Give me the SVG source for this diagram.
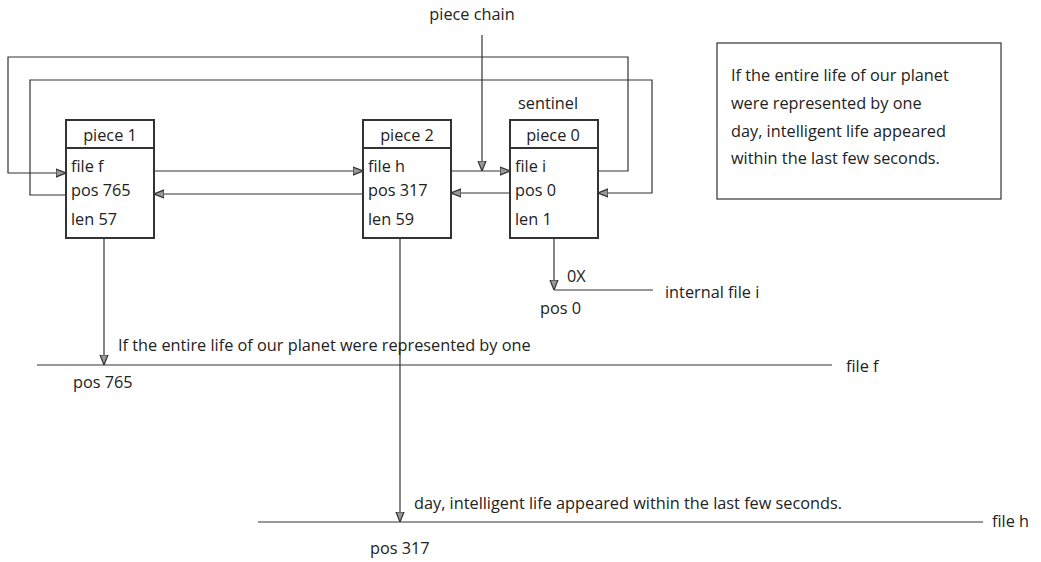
<svg xmlns="http://www.w3.org/2000/svg" width="1041" height="562" viewBox="0 0 1041 562">
<style>
text{font-family:"Open Sans","Noto Sans","Liberation Sans",sans-serif;font-size:16.3px;fill:#222}
.box{fill:#fff;stroke:#333;stroke-width:2}
.sep{stroke:#333;stroke-width:2}
.c{fill:none;stroke:#333;stroke-width:1.2}
.mid{text-anchor:middle}
</style>
<defs>
<marker id="ah" viewBox="0 0 10 10" refX="10" refY="5" markerWidth="10" markerHeight="10" markerUnits="userSpaceOnUse" orient="auto">
<path d="M0,1 L10,5 L0,9 Z" fill="#999" stroke="#333" stroke-width="1.2"/>
</marker>
</defs>
<rect width="1041" height="562" fill="#fff"/>
<g id="connectors">
<path class="c" d="M598,171 H628 V57 H8 V173 H66" marker-end="url(#ah)"/>
<path class="c" d="M66,195 H30 V80 H652 V193 H598" marker-end="url(#ah)"/>
<path class="c" d="M482,35 V171" marker-end="url(#ah)"/>
<path class="c" d="M154,171 H363" marker-end="url(#ah)"/>
<path class="c" d="M363,194 H154" marker-end="url(#ah)"/>
<path class="c" d="M451,171 H510" marker-end="url(#ah)"/>
<path class="c" d="M510,193 H451" marker-end="url(#ah)"/>
<path class="c" d="M104,238 V365" marker-end="url(#ah)"/>
<path class="c" d="M400,238 V522" marker-end="url(#ah)"/>
<path class="c" d="M554,238 V290" marker-end="url(#ah)"/>
</g>
<g id="file-lines">
<path class="c" d="M554,290 H653"/>
<path class="c" d="M37,365 H832"/>
<path class="c" d="M258,522 H983"/>
</g>
<g id="piece1">
<rect class="box" x="66" y="120" width="88" height="118"/>
<line class="sep" x1="66" y1="148" x2="154" y2="148"/>
<text class="mid" x="110" y="141">piece 1</text>
<text x="71" y="172">file f</text>
<text x="71" y="196">pos 765</text>
<text x="71" y="225">len 57</text>
</g>
<g id="piece2">
<rect class="box" x="363" y="120" width="88" height="118"/>
<line class="sep" x1="363" y1="148" x2="451" y2="148"/>
<text class="mid" x="407" y="141">piece 2</text>
<text x="368" y="172">file h</text>
<text x="368" y="196">pos 317</text>
<text x="368" y="225">len 59</text>
</g>
<g id="piece0">
<rect class="box" x="510" y="120" width="88" height="118"/>
<line class="sep" x1="510" y1="148" x2="598" y2="148"/>
<text class="mid" x="553" y="141">piece 0</text>
<text x="515" y="172">file i</text>
<text x="515" y="196">pos 0</text>
<text x="515" y="225">len 1</text>
</g>
<g id="labels">
<text class="mid" x="472" y="20">piece chain</text>
<text x="518" y="109">sentinel</text>
<text x="567" y="282">0X</text>
<text x="665" y="298">internal file i</text>
<text x="540" y="314">pos 0</text>
<text x="118" y="351">If the entire life of our planet were represented by one</text>
<text x="846" y="372">file f</text>
<text x="73" y="388">pos 765</text>
<text x="414" y="509">day, intelligent life appeared within the last few seconds.</text>
<text x="992" y="527">file h</text>
<text x="370" y="554">pos 317</text>
</g>
<g id="textbox">
<rect x="717" y="43" width="284" height="156" fill="#fff" stroke="#333" stroke-width="1.2"/>
<text x="731" y="81">If the entire life of our planet</text>
<text x="731" y="109">were represented by one</text>
<text x="731" y="137">day, intelligent life appeared</text>
<text x="731" y="164">within the last few seconds.</text>
</g>
</svg>
